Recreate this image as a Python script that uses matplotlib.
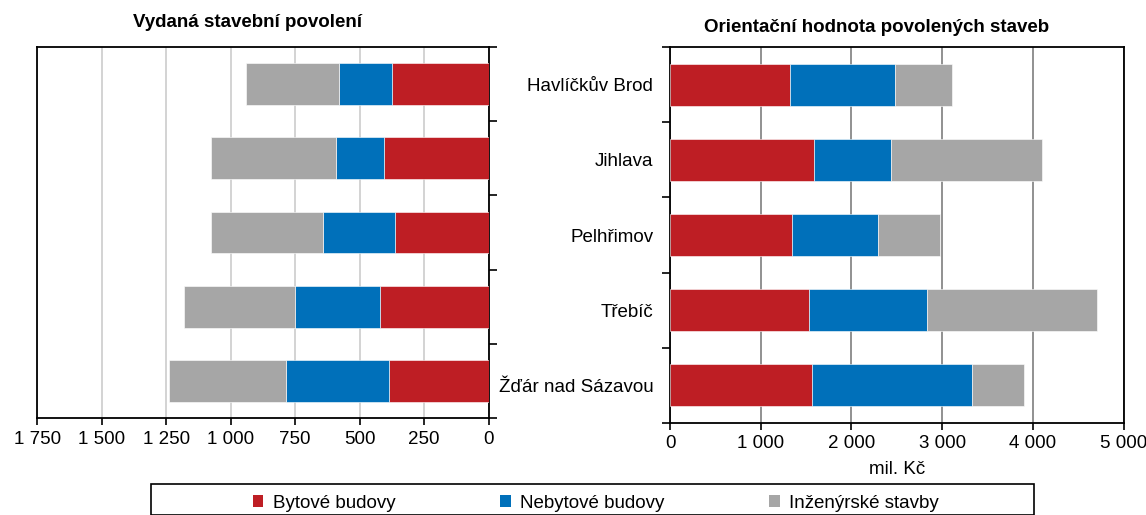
import matplotlib
matplotlib.use('Agg')
import matplotlib.pyplot as plt
from matplotlib.patches import Patch, Rectangle
from matplotlib.ticker import FuncFormatter, FixedLocator
import numpy as np

plt.rcParams['font.family'] = ['Liberation Sans', 'DejaVu Sans']

okresy = ['Havlíčkův Brod', 'Jihlava', 'Pelhřimov', 'Třebíč', 'Žďár nad Sázavou']
druhy = ['Bytové budovy', 'Nebytové budovy', 'Inženýrské stavby']
barvy = ['#BE1E24', '#0070BA', '#A6A6A6']

# vydana stavebni povoleni (pocet)
povoleni_byt = [376, 405, 362, 423, 388]
povoleni_nebyt = [205, 188, 282, 329, 396]
povoleni_inz = [361, 485, 432, 429, 457]

# orientacni hodnota (mil. Kc)
hodnota_byt = [1318, 1590, 1341, 1535, 1571]
hodnota_nebyt = [1161, 843, 949, 1299, 1756]
hodnota_inz = [627, 1673, 687, 1871, 581]

ticks_left = [0, 250, 500, 750, 1000, 1250, 1500, 1750]
ticks_right = [0, 1000, 2000, 3000, 4000, 5000]

FS = 13.5
W, H = 1146, 515


def fmt(v, pos):
    return f'{v:,.0f}'.replace(',', ' ')


def px_axes(fig, x0, y0, x1, y1):
    # pixel box (top-left origin) -> figure fraction
    return fig.add_axes([x0 / W, 1 - y1 / H, (x1 - x0) / W, (y1 - y0) / H])


def stacked(ax, series):
    y = np.arange(len(okresy))
    left = np.zeros(len(okresy))
    for vals, col in zip(series, barvy):
        ax.barh(y, vals, left=left, height=0.56, color=col,
                edgecolor='white', linewidth=0.4, zorder=3)
        left += np.array(vals)
    ax.set_ylim(len(okresy) - 0.5, -0.5)
    ax.yaxis.set_minor_locator(FixedLocator(np.arange(-0.5, len(okresy), 1)))
    ax.xaxis.set_major_formatter(FuncFormatter(fmt))
    ax.tick_params(axis='y', which='major', length=0)
    ax.tick_params(axis='y', which='minor', length=6, width=1.2, direction='out')
    ax.tick_params(axis='x', length=5, width=1.2, direction='out', labelsize=FS, pad=4)
    for s in ax.spines.values():
        s.set_linewidth(1.3)
        s.set_color('black')
    ax.set_axisbelow(True)


fig = plt.figure(figsize=(W / 100, H / 100), dpi=100)

ax1 = px_axes(fig, 37.3, 46.7, 488.7, 418.3)
stacked(ax1, [povoleni_byt, povoleni_nebyt, povoleni_inz])
ax1.set_xlim(1750, 0)
ax1.set_xticks(ticks_left)
ax1.yaxis.tick_right()
ax1.yaxis.set_ticks_position('right')
ax1.set_yticks(np.arange(len(okresy)))
ax1.set_yticklabels([])
ax1.grid(axis='x', color='#D0D0D0', linewidth=1.3)
ax1.text(0.466, 1.064, 'Vydaná stavební povolení', transform=ax1.transAxes,
         ha='center', va='center', fontsize=FS, fontweight='bold')

ax2 = px_axes(fig, 670, 47, 1123.5, 423)
stacked(ax2, [hodnota_byt, hodnota_nebyt, hodnota_inz])
ax2.set_xlim(0, 5000)
ax2.set_xticks(ticks_right)
ax2.set_yticks(np.arange(len(okresy)))
ax2.set_yticklabels(okresy, fontsize=FS)
ax2.tick_params(axis='y', which='major', pad=12)
ax2.grid(axis='x', color='#888888', linewidth=1.3)
ax2.set_xlabel('mil. Kč', fontsize=FS, labelpad=6)
ax2.text(0.456, 1.052, 'Orientační hodnota povolených staveb', transform=ax2.transAxes,
         ha='center', va='center', fontsize=FS, fontweight='bold')

# legend frame runs off the bottom edge like in the source
fig.patches.append(Rectangle((151 / W, 0), (1034 - 151) / W, 1 - 484 / H,
                             transform=fig.transFigure, fill=False,
                             edgecolor='black', linewidth=1.2))
handles = [Patch(facecolor=c, edgecolor='none') for c in barvy]
fig.legend(handles, druhy, loc='center left', bbox_to_anchor=(253 / W, 1 - 503 / H),
           ncol=3, frameon=False, fontsize=FS, handlelength=0.55, handleheight=0.55,
           handletextpad=0.5, columnspacing=5.6, borderaxespad=0, borderpad=0)

fig.savefig('out.png', dpi=100)
